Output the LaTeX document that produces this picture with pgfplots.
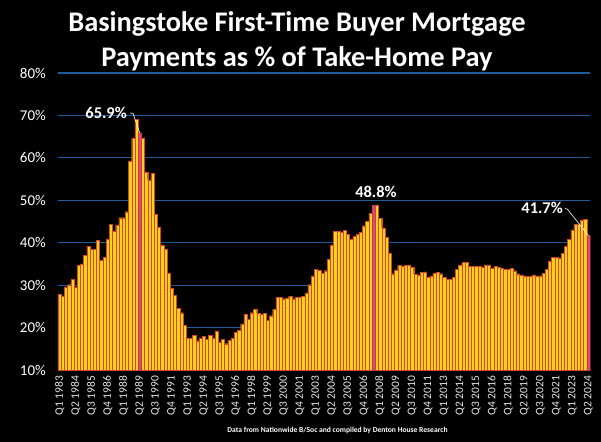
\documentclass[border=0pt]{standalone}
\usepackage{fontspec}
\setmainfont{Carlito}
\usepackage{pgfplots}
\pgfplotsset{compat=1.18}

\definecolor{baryellow}{HTML}{FFD21A}
\definecolor{baredge}{HTML}{D8452A}
\definecolor{barpink}{HTML}{E8456A}
\definecolor{gridblue}{HTML}{1F5C9E}
\definecolor{lbl}{HTML}{E6E6E6}

% quarterly values, Q1 1983 = 0 ... Q2 2024 = 165
\pgfplotstableread{
x y
0 27.8
1 27.5
2 29.6
3 30.1
4 31.3
5 29.6
6 34.7
7 35.0
8 37.0
9 39.2
10 38.5
11 38.5
12 40.6
13 35.9
14 36.5
15 40.9
16 44.4
17 42.8
18 44.2
19 45.9
20 45.9
21 47.3
22 59.3
23 64.6
24 69.1
25 65.9
26 64.7
27 56.7
28 54.8
29 56.3
30 46.7
31 43.6
32 39.5
33 38.4
34 32.9
35 29.2
36 27.6
37 24.5
38 23.5
39 20.5
40 17.5
41 17.5
42 18.2
43 16.9
44 17.4
45 18.0
46 17.3
47 18.2
48 17.6
49 19.2
50 16.6
51 17.2
52 16.2
53 17.0
54 17.6
55 18.8
56 19.4
57 20.9
58 23.1
59 22.0
60 23.5
61 24.3
62 23.3
63 23.1
64 23.3
65 21.7
66 22.8
67 24.3
68 27.1
69 27.1
70 26.8
71 27.0
72 27.4
73 26.8
74 27.2
75 27.1
76 27.4
77 28.2
78 30.1
79 32.2
80 33.7
81 33.5
82 32.8
83 33.4
84 36.1
85 39.5
86 42.7
87 42.7
88 42.4
89 42.9
90 41.9
91 40.9
92 41.5
93 42.1
94 42.4
95 44.0
96 45.0
97 47.0
98 48.8
99 48.9
100 45.8
101 43.5
102 41.3
103 37.5
104 32.7
105 33.6
106 34.6
107 34.4
108 34.7
109 34.8
110 34.2
111 32.6
112 32.4
113 33.0
114 33.1
115 31.8
116 32.2
117 32.8
118 33.0
119 32.7
120 31.9
121 31.4
122 31.4
123 31.9
124 33.8
125 34.8
126 35.3
127 35.3
128 34.5
129 34.5
130 34.4
131 34.4
132 34.2
133 34.8
134 34.8
135 34.0
136 34.4
137 34.2
138 34.0
139 33.8
140 33.8
141 33.9
142 33.4
143 32.7
144 32.4
145 32.2
146 32.0
147 32.0
148 32.4
149 32.2
150 32.2
151 32.8
152 33.8
153 35.7
154 36.6
155 36.6
156 36.4
157 37.5
158 39.1
159 40.8
160 43.0
161 44.4
162 44.4
163 45.4
164 45.5
165 41.7
}\payments

\begin{document}
\begin{tikzpicture}
\fill[black] (-58bp,-72bp) rectangle (543bp,370bp);
\begin{axis}[
  at={(0,0)}, anchor=south west,
  scale only axis, width=532bp, height=297bp,
  xmin=-0.5, xmax=165.5, ymin=10, ymax=80,
  ytick={10,20,...,80},
  ymajorgrids,
  major grid style={gridblue, line width=1.1bp},
  axis line style={draw=none},
  major tick length=0pt,
  xtick={0,5,...,165},
  xticklabels={Q1 1983,Q2 1984,Q3 1985,Q4 1986,Q1 1988,Q2 1989,Q3 1990,Q4 1991,
    Q1 1993,Q2 1994,Q3 1995,Q4 1996,Q1 1998,Q2 1999,Q3 2000,Q4 2001,Q1 2003,
    Q2 2004,Q3 2005,Q4 2006,Q1 2008,Q2 2009,Q3 2010,Q4 2011,Q1 2013,Q2 2014,
    Q3 2015,Q4 2016,Q1 2018,Q2 2019,Q3 2020,Q4 2021,Q1 2023,Q2 2024},
  xticklabel style={rotate=90, anchor=east, inner xsep=6bp, text=lbl,
    font=\fontsize{11.5}{12}\selectfont},
  yticklabel={\pgfmathprintnumber[assume math mode=true]{\tick}\%},
  yticklabel style={anchor=east, inner xsep=12bp, text=white,
    font=\fontsize{15}{16}\selectfont},
]
\addplot[ybar, bar width=1, bar shift=0pt, fill=baryellow, draw=baredge,
  line width=0.35bp] table[x=x, y=y] {\payments};
\addplot[ybar, bar width=1, bar shift=0pt, fill=barpink, draw=barpink!85!black,
  line width=0.35bp] coordinates {(25,65.9) (98,48.8) (165,41.7)};
\coordinate (pk1) at (axis cs:25,65.9);
\coordinate (pk3) at (axis cs:165,41.7);
\end{axis}

% title
\node[anchor=base, text=white, font=\bfseries\fontsize{28.5}{30}\selectfont]
  at (239bp,338bp) {Basingstoke First-Time Buyer Mortgage};
\node[anchor=base, text=white, font=\bfseries\fontsize{28.5}{30}\selectfont]
  at (239bp,303bp) {Payments as \% of Take-Home Pay};

% annotations
\draw[white, line width=0.6bp] (72bp,257bp) -- (75bp,256.5bp) -- (pk1);
\node[anchor=base east, inner sep=0pt, text=white, font=\bfseries\fontsize{16.5}{18}\selectfont]
  at (69bp,251.7bp) {65.9\%};
\node[anchor=base, inner sep=0pt, text=white, font=\bfseries\fontsize{16.5}{18}\selectfont]
  at (318bp,172.7bp) {48.8\%};
\draw[white, line width=0.6bp] (507bp,161.7bp) -- (509.5bp,160.7bp) -- (pk3);
\node[anchor=base east, inner sep=0pt, text=white, font=\bfseries\fontsize{16.5}{18}\selectfont]
  at (505bp,156bp) {41.7\%};

% source
\node[text=white, font=\bfseries\fontsize{7.6}{9}\selectfont]
  at (279.5bp,-60.7bp) {Data from Nationwide B/Soc and compiled by Denton House Research};
\end{tikzpicture}
\end{document}
